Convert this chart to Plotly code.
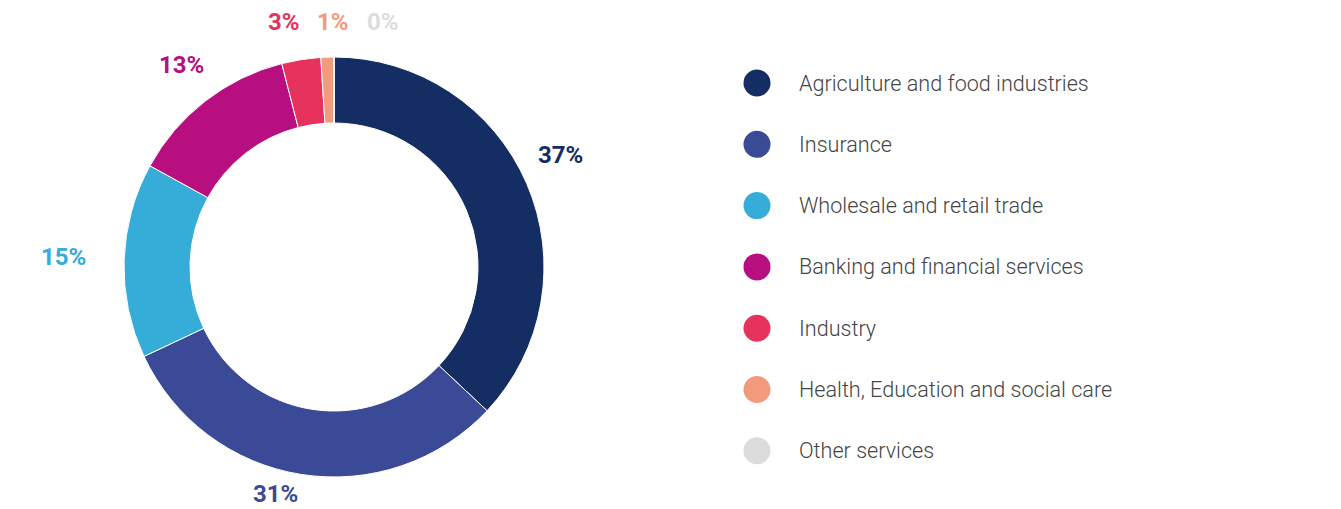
import plotly.graph_objects as go

W, H = 1341, 509

sectors = [
    "Agriculture and food industries",
    "Insurance",
    "Wholesale and retail trade",
    "Banking and financial services",
    "Industry",
    "Health, Education and social care",
    "Other services",
]
shares = [37, 31, 15, 13, 3, 1, 0]
colors = ["#142d63", "#3b4a97", "#36acd9", "#b80f80", "#e8325e", "#f29a7c", "#dcdcdc"]

# label anchor points (pixels from top-left) for the percentage callouts
label_px = [(560, 155), (275, 494), (63, 257), (181, 65), (284, 22), (333, 22), (383, 22)]

# donut geometry in pixels
cx, cy, r_out, r_in = 334, 267, 210, 144

fig = go.Figure()

fig.add_trace(go.Pie(
    labels=sectors,
    values=shares,
    marker=dict(colors=colors, line=dict(color="white", width=1)),
    hole=r_in / r_out,
    sort=False,
    direction="clockwise",
    rotation=0,
    textinfo="none",
    hoverinfo="label+percent",
    showlegend=False,
    domain=dict(
        x=[(cx - r_out) / W, (cx + r_out) / W],
        y=[(H - cy - r_out) / H, (H - cy + r_out) / H],
    ),
))

# custom legend: big round swatches with category names
rows = list(range(len(sectors)))
fig.add_trace(go.Scatter(
    x=[0] * len(sectors),
    y=rows,
    mode="markers",
    marker=dict(size=27, color=colors, line=dict(width=0)),
    hoverinfo="skip",
    showlegend=False,
    xaxis="x",
    yaxis="y",
))

for i, name in enumerate(sectors):
    fig.add_annotation(
        x=40, y=rows[i], xref="x", yref="y",
        text=name, showarrow=False, xanchor="left", yanchor="middle",
        font=dict(family="Roboto", size=21.6, color="#444444", weight=300),
    )

for (px, py), v, c in zip(label_px, shares, colors):
    fig.add_annotation(
        x=px / W, y=1 - py / H, xref="paper", yref="paper",
        text=f"<b>{v}%</b>", showarrow=False, xanchor="center", yanchor="middle",
        font=dict(family="Roboto", size=24, color=c),
        borderpad=0,
    )

row_top, row_gap = 83, 61.3
fig.update_layout(
    width=W, height=H,
    margin=dict(l=0, r=0, t=0, b=0),
    paper_bgcolor="white",
    plot_bgcolor="rgba(0,0,0,0)",
    xaxis=dict(domain=[0, 1], range=[-757, W - 757], visible=False, fixedrange=True),
    yaxis=dict(domain=[0, 1],
               range=[(H - row_top) / row_gap, -row_top / row_gap],
               visible=False, fixedrange=True),
)

fig.write_html("out.html")
